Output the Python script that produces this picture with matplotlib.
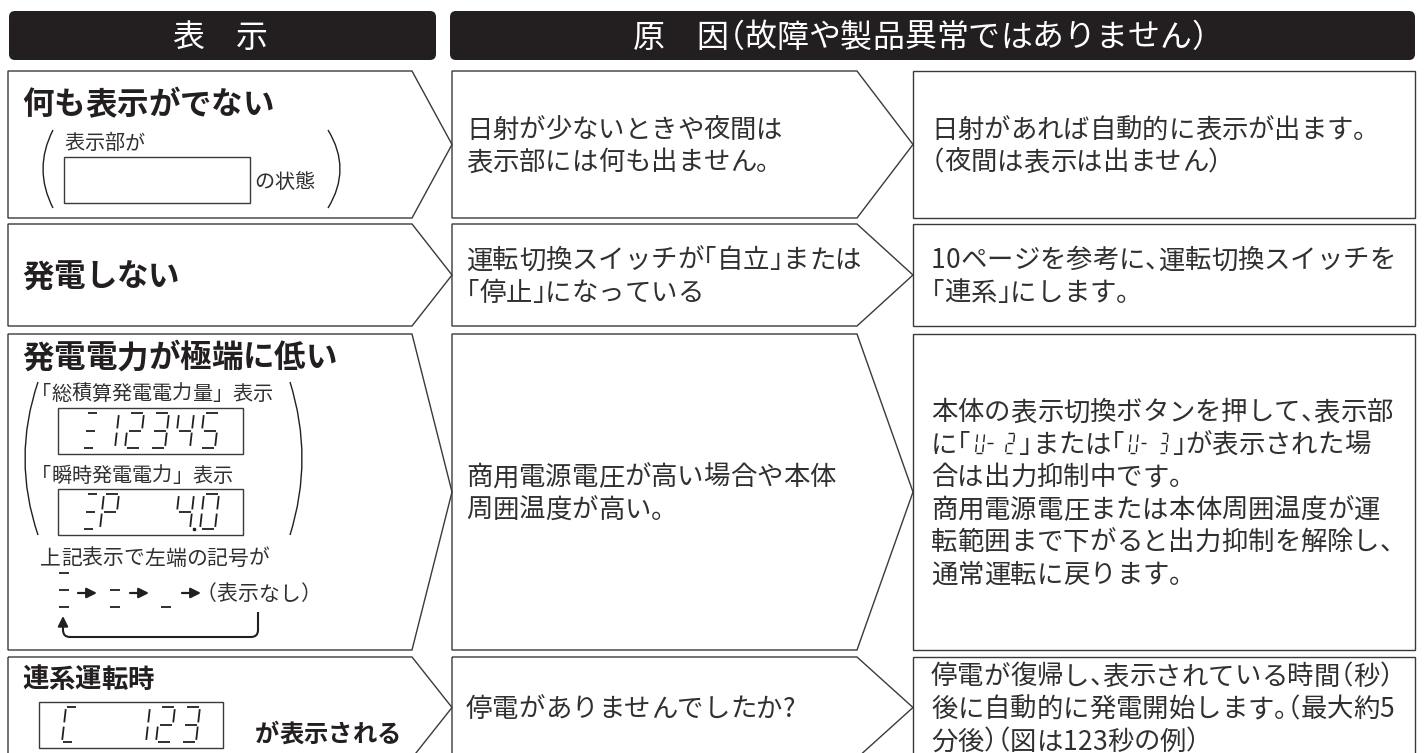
import matplotlib
matplotlib.use("Agg")
import matplotlib.pyplot as plt
from matplotlib.patches import Polygon, Rectangle, FancyBboxPatch, PathPatch
from matplotlib.path import Path
from matplotlib.font_manager import FontProperties, findfont, get_font

plt.rcParams['font.family'] = ['Noto Sans CJK JP', 'DejaVu Sans']

INK = '#231f20'
TXT = '#303030'
LINE = '#3a3a3a'

# ---- content
header_left = '表　示'
header_right = '原　因（故障や製品異常ではありません）'
symptoms = ['何も表示がでない', '発電しない', '発電電力が極端に低い', '連系運転時']
causes = [
    ['日射が少ないときや夜間は', '表示部には何も出ません。'],
    ['運転切換スイッチが「自立」または', '「停止」になっている'],
    ['商用電源電圧が高い場合や本体', '周囲温度が高い。'],
    ['停電がありませんでしたか?'],
]
remedies = [
    ['日射があれば自動的に表示が出ます。', '（夜間は表示は出ません）'],
    ['10ページを参考に、運転切換スイッチを', '「連系」にします。'],
    ['本体の表示切換ボタンを押して、表示部',
     'に「{U- 2}」または「{U- 3}」が表示された場',
     '合は出力抑制中です。',
     '商用電源電圧または本体周囲温度が運',
     '転範囲まで下がると出力抑制を解除し、',
     '通常運転に戻ります。'],
    ['停電が復帰し、表示されている時間（秒）', '後に自動的に発電開始します。（最大約5', '分後）（図は123秒の例）'],
]
blank_label = ['表示部が', 'の状態']
low_labels = ['「総積算発電電力量」表示', '「瞬時発電電力」表示', '上記表示で左端の記号が', '（表示なし）']
display_total = ('≡', '12345')
display_inst = ('≡', 'P  4.0')
display_grid = ('C', '  123')
level_symbols = ['≡', '=', '_']
grid_suffix = 'が表示される'

# ---- layout (pixels)
row_top = [71, 224, 334, 657]
row_bot = [218, 326, 650, 758]
col1 = (8, 412, 452)
col2 = (452, 857, 913)
col3 = (913, 1415)
pitch = 32.5

SEGS = {'0': 'abcdef', '1': 'bc', '2': 'abged', '3': 'abgcd', '4': 'fgbc', '5': 'afgcd',
        'P': 'abfge', 'C': 'afed', 'U': 'fedcb', '-': 'g', ' ': '',
        '≡': 'agd', '=': 'gd', '_': 'd'}
SEG_PTS = {'a': ((0.1, 1), (0.9, 1)), 'b': ((1, 0.94), (1, 0.56)), 'c': ((1, 0.44), (1, 0.06)),
           'd': ((0.1, 0), (0.9, 0)), 'e': ((0, 0.44), (0, 0.06)), 'f': ((0, 0.94), (0, 0.56)),
           'g': ((0.1, 0.5), (0.9, 0.5))}
OPEN = '「（'
CLOSE = '」）、。'

fig = plt.figure(figsize=(14.26, 7.53), dpi=100)
ax = fig.add_axes([0, 0, 1, 1])
ax.set_xlim(0, 1426)
ax.set_ylim(753, 0)
ax.axis('off')

try:
    _font = get_font(findfont(FontProperties(family='Noto Sans CJK JP')))
except Exception:
    _font = None


def advance(c, fs):
    em = fs * 100 / 72
    if _font is None:
        return em if ord(c) > 0x2000 else 0.55 * em
    _font.set_size(fs, 100)
    g = _font.load_char(ord(c))
    return g.linearHoriAdvance / 65536


def glyph(x, ybot, ch, w=15, h=35, slant=4, lw=1.3):
    for s in SEGS[ch]:
        (u1, v1), (u2, v2) = SEG_PTS[s]
        ax.plot([x + u1 * w + v1 * slant, x + u2 * w + v2 * slant],
                [ybot - v1 * h, ybot - v2 * h], color=INK, lw=lw, solid_capstyle='butt')


def layout(x, y, s, fs=19, color=TXT, weight='normal', palt=True, draw=True):
    """Lay text out char by char with half-width brackets; {..} = 7-seg glyphs."""
    em = fs * 100 / 72
    base = y + 0.36 * em
    seg = False
    for c in s:
        if c in '{}':
            seg = (c == '{')
            x += 4
            continue
        if seg:
            if draw:
                glyph(x + 1, y + 10, c, w=7, h=20, slant=2, lw=1.0)
            x += 10
            continue
        adv = advance(c, fs)
        dx = 0
        if palt and c in OPEN:
            dx, adv = -0.5 * em, 0.5 * em
        elif palt and c in CLOSE:
            adv = 0.5 * em
        if draw and c != ' ':
            ax.text(x + dx, base, c, fontsize=fs, color=color, fontweight=weight,
                    va='baseline', ha='left')
        x += adv
    return x


def display(x, y, w, h, sym, digits, sym_dx=25):
    ax.add_patch(Rectangle((x, y), w, h, fill=False, ec=LINE, lw=1.0))
    ybot = y + h - 6
    glyph(x + sym_dx, ybot, sym, w=11)
    i = 0
    for ch in digits:
        if ch == '.':
            cx = x + 42 + (i - 1) * 25 + 19
            ax.plot([cx], [ybot], 's', ms=1.6, color=INK)
            continue
        glyph(x + 42 + i * 25, ybot, ch)
        i += 1


def paren(x_end, x_ctrl, y0, y1):
    p = Path([(x_end, y0), (x_ctrl, (y0 + y1) / 2), (x_end, y1)],
             [Path.MOVETO, Path.CURVE3, Path.CURVE3])
    ax.add_patch(PathPatch(p, fill=False, ec=INK, lw=1.0))


def arrow(x0, x1, y0, y1, lw=1.6):
    ax.annotate('', xy=(x1, y1), xytext=(x0, y0),
                arrowprops=dict(arrowstyle='-|>,head_length=0.6,head_width=0.3',
                                color=INK, lw=lw, shrinkA=0, shrinkB=0))


# headers
ax.add_patch(FancyBboxPatch((9, 11), 427, 49, boxstyle='round,pad=0,rounding_size=6',
                            fc=INK, ec='none'))
ax.add_patch(FancyBboxPatch((450, 11), 965, 49, boxstyle='round,pad=0,rounding_size=6',
                            fc=INK, ec='none'))
for s, cx in ((header_left, 220), (header_right, 920)):
    w = layout(0, 0, s, fs=23, draw=False)
    layout(cx - w / 2, 35, s, fs=23, color='white')

# row shapes
for t, b in zip(row_top, row_bot):
    m = (t + b) / 2
    for c in (col1, col2):
        ax.add_patch(Polygon([(c[0], t), (c[1], t), (c[2], m), (c[1], b), (c[0], b)],
                             closed=True, fill=False, ec=LINE, lw=1.0))
    ax.add_patch(Rectangle((col3[0], t), col3[1] - col3[0], b - t, fill=False, ec=LINE, lw=1.0))

# symptom titles
title_y = [103, 275, 356, 678]
title_fs = [22.7, 22.7, 22.7, 19]
for s, y, fs in zip(symptoms, title_y, title_fs):
    layout(22, y, s, fs=fs, color=INK, weight='bold')

# cause / remedy lines
for i in range(4):
    m = (row_top[i] + row_bot[i]) / 2
    for j, s in enumerate(causes[i]):
        layout(466, m + (j - (len(causes[i]) - 1) / 2) * pitch, s)
    for j, s in enumerate(remedies[i]):
        layout(931, m + (j - (len(remedies[i]) - 1) / 2) * pitch, s)

# row 1 detail
layout(64, 142, blank_label[0], fs=14.5)
ax.add_patch(Rectangle((64, 157), 186, 46, fill=False, ec=LINE, lw=1.0))
layout(254, 181, blank_label[1], fs=14.5)
paren(53, 33, 130, 208)
paren(328, 352, 130, 208)

# row 3 detail
paren(38, 12, 382, 535)
paren(290, 314, 382, 535)
layout(31, 393, low_labels[0], fs=14.5, palt=False)
display(58, 408, 185, 46, *display_total)
layout(31, 475, low_labels[1], fs=14.5, palt=False)
display(58, 489, 185, 46, *display_inst)
layout(40, 557, low_labels[2], fs=15)
for k, sym in enumerate(level_symbols):
    glyph(58 + k * 51, 607, sym, w=12, h=34, slant=0, lw=1.3)
    arrow(78 + k * 52, 97 + k * 52, 593, 593)
layout(206, 593, low_labels[3], fs=15)
loop = Path([(258, 612), (258, 630), (258, 637), (251, 637), (70, 637), (63, 637), (63, 630), (63, 627)],
            [Path.MOVETO, Path.LINETO, Path.CURVE3, Path.CURVE3, Path.LINETO, Path.CURVE3,
             Path.CURVE3, Path.LINETO])
ax.add_patch(PathPatch(loop, fill=False, ec=INK, lw=1.5))
arrow(63, 63, 628, 616, lw=1.5)

# row 4 detail
display(39, 702, 184, 46, *display_grid, sym_dx=23)
layout(255, 733, grid_suffix, fs=17.5, color=INK, weight='bold')

fig.savefig('out.png', dpi=100)
